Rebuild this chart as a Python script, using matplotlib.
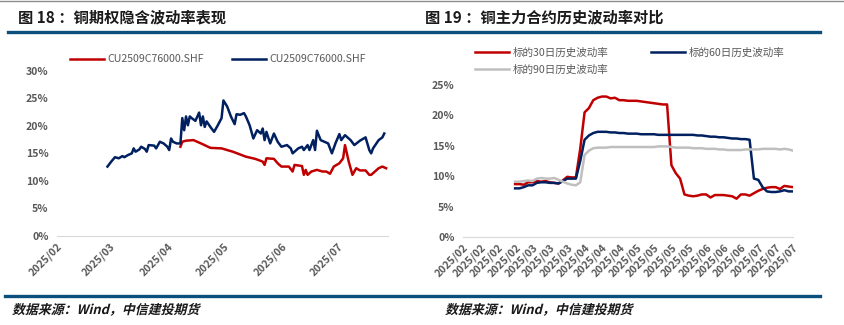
import numpy as np
import pandas as pd
import matplotlib
matplotlib.use("Agg")
import matplotlib.pyplot as plt
import matplotlib.dates as mdates
from matplotlib.lines import Line2D
from matplotlib.textpath import TextPath
from matplotlib.patches import PathPatch
from matplotlib.font_manager import FontProperties
from matplotlib.transforms import Affine2D

plt.rcParams['font.family'] = ['Noto Sans CJK SC', 'DejaVu Sans']

# ---- 图18 数据：期权隐含波动率 (%)
iv_call_dates = ['2025-04-08', '2025-04-09', '2025-04-11', '2025-04-15', '2025-04-19', '2025-04-24',
                 '2025-04-30', '2025-05-06', '2025-05-13', '2025-05-18', '2025-05-22', '2025-05-23',
                 '2025-05-24', '2025-05-28', '2025-05-30', '2025-06-01', '2025-06-05', '2025-06-07',
                 '2025-06-08', '2025-06-12', '2025-06-13', '2025-06-14', '2025-06-15', '2025-06-17',
                 '2025-06-20', '2025-06-23', '2025-06-25', '2025-06-27', '2025-06-29', '2025-07-02',
                 '2025-07-04', '2025-07-05', '2025-07-07', '2025-07-09', '2025-07-11', '2025-07-13',
                 '2025-07-16', '2025-07-18', '2025-07-19', '2025-07-21', '2025-07-23', '2025-07-25',
                 '2025-07-27']
iv_red = [16.2, 17.1, 17.3, 17.4, 16.8, 16.0, 15.9, 15.3, 14.4, 14.0, 13.5, 12.9,
          14.1, 14.0, 13.2, 12.6, 12.6, 11.7, 12.9, 12.7, 11.1, 12.0, 11.1, 11.7,
          12.0, 11.7, 11.7, 11.3, 12.6, 13.2, 14.1, 16.5, 13.5, 11.1, 12.3, 11.9,
          11.9, 11.1, 11.1, 11.7, 12.3, 12.6, 12.3]

iv_blue_dates = ['2025-02-28', '2025-03-02', '2025-03-04', '2025-03-06', '2025-03-08', '2025-03-09',
                 '2025-03-11', '2025-03-13', '2025-03-14', '2025-03-15', '2025-03-17', '2025-03-18',
                 '2025-03-20', '2025-03-21', '2025-03-22', '2025-03-25', '2025-03-26', '2025-03-28',
                 '2025-03-30', '2025-04-01', '2025-04-02', '2025-04-03', '2025-04-04', '2025-04-06',
                 '2025-04-08', '2025-04-09', '2025-04-10', '2025-04-11', '2025-04-12', '2025-04-13',
                 '2025-04-14', '2025-04-16', '2025-04-18', '2025-04-19', '2025-04-20', '2025-04-21',
                 '2025-04-22', '2025-04-24', '2025-04-26', '2025-04-28', '2025-04-30', '2025-05-01',
                 '2025-05-03', '2025-05-05', '2025-05-07', '2025-05-08', '2025-05-10', '2025-05-12',
                 '2025-05-13', '2025-05-15', '2025-05-17', '2025-05-19', '2025-05-21', '2025-05-22',
                 '2025-05-23', '2025-05-24', '2025-05-26', '2025-05-28', '2025-05-30', '2025-06-01',
                 '2025-06-04', '2025-06-06', '2025-06-07', '2025-06-10', '2025-06-12', '2025-06-13',
                 '2025-06-15', '2025-06-16', '2025-06-18', '2025-06-19', '2025-06-20', '2025-06-22',
                 '2025-06-24', '2025-06-26', '2025-06-28', '2025-06-30', '2025-07-02', '2025-07-03',
                 '2025-07-05', '2025-07-08', '2025-07-10', '2025-07-13', '2025-07-16', '2025-07-18',
                 '2025-07-19', '2025-07-20', '2025-07-23', '2025-07-25', '2025-07-26']
iv_blue = [12.6, 13.5, 14.3, 14.1, 14.5, 14.3, 14.7, 15.0, 15.9, 15.3, 15.7, 16.2,
           15.8, 15.3, 16.5, 16.4, 15.9, 17.1, 16.8, 16.2, 15.6, 17.7, 17.1, 16.8,
           16.8, 21.4, 19.2, 21.7, 20.1, 21.7, 21.4, 20.9, 22.4, 20.1, 21.7, 19.8,
           20.8, 19.8, 18.9, 20.1, 21.4, 24.6, 23.5, 21.7, 20.3, 22.1, 22.0, 22.3,
           21.7, 20.1, 17.7, 19.2, 18.6, 19.5, 17.4, 18.9, 16.8, 18.6, 17.1, 16.2,
           16.5, 15.9, 15.0, 15.9, 16.2, 15.6, 16.5, 15.6, 17.4, 15.6, 19.1, 17.4,
           17.1, 16.8, 15.0, 16.9, 18.5, 17.4, 18.3, 17.4, 16.5, 17.3, 17.9, 15.6,
           15.0, 15.9, 17.4, 17.9, 18.6]
iv_labels = ['CU2509C76000.SHF', 'CU2509C76000.SHF']

# ---- 图19 数据：历史波动率 (%)，类别轴
hv_ticklabels = ['2025/02', '2025/02', '2025/02', '2025/02', '2025/03', '2025/03', '2025/03',
                 '2025/04', '2025/04', '2025/04', '2025/05', '2025/05', '2025/05', '2025/05',
                 '2025/06', '2025/06', '2025/06', '2025/07', '2025/07', '2025/07']
hv_start = 12  # 前面的类别无数据
hv30 = [8.7, 8.7, 8.6, 9.0, 9.0, 9.2, 9.1, 9.2, 9.0, 8.9, 8.8, 9.3, 9.9, 9.8, 9.8,
        14.5, 20.5, 21.2, 22.5, 22.9, 23.1, 23.1, 22.8, 22.9, 22.5, 22.5, 22.4, 22.4,
        22.4, 22.3, 22.2, 22.1, 22.0, 21.9, 21.8, 21.8, 11.8, 10.5, 9.6, 7.0, 6.8, 6.7,
        6.8, 7.0, 7.0, 6.5, 6.9, 6.9, 6.9, 6.8, 6.7, 6.3, 7.0, 7.0, 6.8, 7.2, 7.6, 7.9,
        8.1, 8.2, 8.2, 7.9, 8.4, 8.3, 8.2]
hv60 = [8.0, 8.0, 8.2, 8.5, 8.5, 8.9, 9.0, 9.0, 8.9, 8.9, 8.8, 9.2, 9.6, 9.6, 9.6,
        12.5, 16.0, 16.7, 17.1, 17.3, 17.3, 17.3, 17.2, 17.2, 17.1, 17.1, 17.0, 17.0,
        17.0, 16.9, 16.9, 16.9, 16.9, 16.8, 16.8, 16.8, 16.8, 16.8, 16.8, 16.8, 16.8,
        16.8, 16.7, 16.7, 16.6, 16.5, 16.5, 16.4, 16.4, 16.3, 16.2, 16.2, 16.1, 16.1,
        16.0, 9.6, 9.4, 8.2, 7.5, 7.4, 7.4, 7.5, 7.7, 7.5, 7.5]
hv90 = [9.1, 9.1, 9.2, 9.3, 9.2, 9.6, 9.7, 9.6, 9.6, 9.7, 9.4, 9.1, 8.8, 8.6, 8.5,
        9.0, 13.5, 14.2, 14.6, 14.7, 14.7, 14.7, 14.8, 14.8, 14.8, 14.8, 14.8, 14.8,
        14.8, 14.8, 14.8, 14.8, 14.8, 14.9, 14.9, 14.9, 14.8, 14.7, 14.7, 14.7, 14.7,
        14.6, 14.6, 14.6, 14.5, 14.5, 14.5, 14.4, 14.4, 14.3, 14.3, 14.3, 14.3, 14.4,
        14.4, 14.4, 14.4, 14.5, 14.5, 14.5, 14.5, 14.4, 14.5, 14.4, 14.2]
hv_labels = ['标的30日历史波动率', '标的60日历史波动率', '标的90日历史波动率']

RED = '#c00000'
NAVY = '#002060'
GRAY = '#bfbfbf'
TICK = '#595959'
BAR = '#0b4f7c'

W, H = 845, 325
DPI = 100
fig = plt.figure(figsize=(W / DPI, H / DPI), dpi=DPI)


def fx(px):
    return px / W


def fy(py):
    return 1 - py / H


def style_axes(ax):
    for s in ['top', 'right', 'left']:
        ax.spines[s].set_visible(False)
    ax.spines['bottom'].set_color('#d9d9d9')
    ax.spines['bottom'].set_linewidth(0.8)
    ax.tick_params(axis='both', length=0, colors=TICK, labelsize=7.6)
    ax.tick_params(axis='y', pad=6)
    for lab in ax.get_xticklabels():
        lab.set_rotation(45)
        lab.set_ha('right')
        lab.set_rotation_mode('anchor')
        lab.set_fontweight('bold')
    for lab in ax.get_yticklabels():
        lab.set_fontweight('bold')


def slanted_text(px, py, s, size):
    # 斜体来源说明（字体没有斜体，用剪切变换模拟）
    path = TextPath((0, 0), s, size=size,
                    prop=FontProperties(family='Noto Sans CJK SC', weight='bold'))
    tr = Affine2D().scale(DPI / 72).skew_deg(14, 0).translate(px, H - py)
    fig.add_artist(PathPatch(path, transform=tr, facecolor='#1a1a1a', edgecolor='none'))


# ---- 左图
ax1 = fig.add_axes([fx(57), fy(236), fx(388 - 57), (236 - 70.7) / H])
ax1.plot(pd.to_datetime(iv_call_dates), iv_red, color=RED, lw=1.8, label=iv_labels[0])
ax1.plot(pd.to_datetime(iv_blue_dates), iv_blue, color=NAVY, lw=1.8, label=iv_labels[1])
ax1.set_ylim(0, 30)
ax1.set_yticks(range(0, 31, 5))
ax1.set_yticklabels([f'{v}%' for v in range(0, 31, 5)])
ax1.set_xlim(pd.Timestamp('2025-02-01'), pd.Timestamp('2025-07-28'))
ax1.xaxis.set_major_locator(mdates.MonthLocator())
ax1.xaxis.set_major_formatter(mdates.DateFormatter('%Y/%m'))
style_axes(ax1)
leg1 = ax1.legend(loc='center', bbox_to_anchor=(fx(218), fy(59.5)), bbox_transform=fig.transFigure,
                  ncol=2, frameon=False, fontsize=7.6, handlelength=3.2, columnspacing=2.6,
                  handletextpad=0.35)
for t in leg1.get_texts():
    t.set_color(TICK)

# ---- 右图
ax2 = fig.add_axes([fx(463), fy(237), fx(793 - 463), (237 - 85) / H])
xs = np.arange(hv_start, hv_start + len(hv30))
l30, = ax2.plot(xs, hv30, color=RED, lw=1.8, label=hv_labels[0])
l60, = ax2.plot(xs, hv60, color=NAVY, lw=1.8, label=hv_labels[1])
l90, = ax2.plot(xs, hv90, color=GRAY, lw=1.8, label=hv_labels[2])
ax2.set_ylim(0, 25)
ax2.set_yticks(range(0, 26, 5))
ax2.set_yticklabels([f'{v}%' for v in range(0, 26, 5)])
step = 4
ax2.set_xlim(0, step * (len(hv_ticklabels) - 1))
ax2.set_xticks(np.arange(len(hv_ticklabels)) * step)
ax2.set_xticklabels(hv_ticklabels)
style_axes(ax2)
leg2 = ax2.legend([l30, l90, l60], [hv_labels[0], hv_labels[2], hv_labels[1]],
                  loc='upper left', bbox_to_anchor=(fx(466), fy(38)), bbox_transform=fig.transFigure,
                  ncol=2, frameon=False, fontsize=7.6, handlelength=3.2, columnspacing=4.0,
                  handletextpad=0.35, labelspacing=0.7)
for t in leg2.get_texts():
    t.set_color(TICK)

# ---- 标题、分隔线、来源
fig.add_artist(Line2D([0, 1], [fy(0.5)] * 2, color='#8c8c8c', lw=1.0))
fig.text(fx(18), fy(17), '图 18 ：铜期权隐含波动率表现', fontsize=11, fontweight='bold',
         color='#1a1a1a', va='center')
fig.text(fx(425), fy(17), '图 19 ：铜主力合约历史波动率对比', fontsize=11, fontweight='bold',
         color='#1a1a1a', va='center')
fig.add_artist(Line2D([fx(8), fx(820)], [fy(31.5)] * 2, color=BAR, lw=2.4))
fig.add_artist(Line2D([fx(5), fx(820)], [fy(295.5)] * 2, color=BAR, lw=2.4))
slanted_text(12, 314, '数据来源：Wind，中信建投期货', 9.3)
slanted_text(445, 314, '数据来源：Wind，中信建投期货', 9.3)

plt.savefig('out.png', dpi=DPI)
